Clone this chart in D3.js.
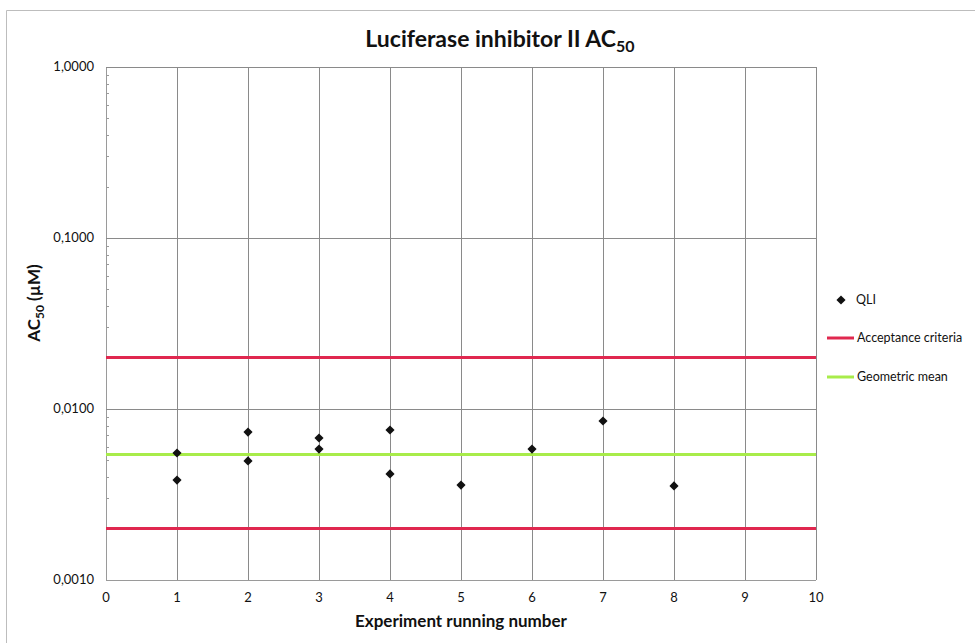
<!DOCTYPE html>
<html>
<head>
<meta charset="utf-8">
<script src="https://cdn.jsdelivr.net/npm/d3@7"></script>
<style>
  html, body { margin: 0; padding: 0; background: #fff; }
  svg { display: block; }
  text { font-family: Lato, "Open Sans", "DejaVu Sans", sans-serif; fill: #111; }
</style>
</head>
<body>
<script>
// Experiment running number for each QLI measurement
const runNumbers = [1, 1, 2, 2, 3, 3, 4, 4, 5, 6, 7, 8];
// AC50 (µM) of the QLI measurements
const ac50Values = [0.00553, 0.00384, 0.00733, 0.00497, 0.00677, 0.00583, 0.00754, 0.00417, 0.00359, 0.00583, 0.00851, 0.00355];
// Acceptance criteria (lower, upper) and geometric mean, µM
const acceptanceLimits = [0.002, 0.02];
const geometricMean = [0.00542];
// Axis ticks
const xTicks = [0, 1, 2, 3, 4, 5, 6, 7, 8, 9, 10];
const yTicks = [0.001, 0.01, 0.1, 1];
const yTickLabels = ["0,0010", "0,0100", "0,1000", "1,0000"];
const legendLabels = ["QLI", "Acceptance criteria", "Geometric mean"];

const W = 975, H = 643;
const margin = { left: 106, right: 159, top: 67, bottom: 63 };

const svg = d3.select("body").append("svg").attr("width", W).attr("height", H);

// outer chart frame
svg.append("path")
  .attr("d", `M6.5,${H} V10.5 H${W}`)
  .attr("fill", "none").attr("stroke", "#bdbdbd").attr("stroke-width", 1);

const x = d3.scaleLinear().domain([0, 10]).range([margin.left, W - margin.right]);
const y = d3.scaleLog().domain([0.001, 1]).range([H - margin.bottom, margin.top]);

const gridColor = "#8a8a8a";

// vertical grid lines
svg.append("g").selectAll("line").data(xTicks).join("line")
  .attr("x1", d => Math.round(x(d)) + 0.5).attr("x2", d => Math.round(x(d)) + 0.5)
  .attr("y1", y(1)).attr("y2", y(0.001))
  .attr("stroke", d => d === 0 ? "#9a9a9a" : gridColor).attr("stroke-width", 1);

// horizontal grid lines at each decade
svg.append("g").selectAll("line").data(yTicks).join("line")
  .attr("x1", x(0)).attr("x2", x(10))
  .attr("y1", d => Math.round(y(d)) + 0.5).attr("y2", d => Math.round(y(d)) + 0.5)
  .attr("stroke", d => d === 0.001 ? "#9a9a9a" : gridColor).attr("stroke-width", 1);

// minor ticks on the y axis
const minor = [];
[0.001, 0.01, 0.1].forEach(dec => { for (let k = 2; k <= 9; k++) minor.push(dec * k); });
svg.append("g").selectAll("line").data(minor).join("line")
  .attr("x1", x(0)).attr("x2", x(0) + 3)
  .attr("y1", d => Math.round(y(d)) + 0.5).attr("y2", d => Math.round(y(d)) + 0.5)
  .attr("stroke", "#9a9a9a");

// y tick labels
svg.append("g").selectAll("text").data(yTicks).join("text")
  .attr("x", x(0) - 12).attr("y", d => y(d) + 4)
  .attr("text-anchor", "end").attr("font-size", 13)
  .text((d, i) => yTickLabels[i]);

// x tick labels
svg.append("g").selectAll("text").data(xTicks).join("text")
  .attr("x", d => x(d)).attr("y", y(0.001) + 22)
  .attr("text-anchor", "middle").attr("font-size", 13)
  .text(d => d);

// acceptance criteria lines
svg.append("g").selectAll("line").data(acceptanceLimits).join("line")
  .attr("x1", x(0)).attr("x2", x(10))
  .attr("y1", d => y(d)).attr("y2", d => y(d))
  .attr("stroke", "#e0284f").attr("stroke-width", 3);

// geometric mean line
svg.append("g").selectAll("line").data(geometricMean).join("line")
  .attr("x1", x(0)).attr("x2", x(10))
  .attr("y1", d => y(d)).attr("y2", d => y(d))
  .attr("stroke", "#a8ec4a").attr("stroke-width", 3);

// QLI points: squares turned 45° to form diamonds
const diamond = d3.symbol().type(d3.symbolSquare).size(42);
svg.append("g").selectAll("path").data(runNumbers).join("path")
  .attr("d", diamond)
  .attr("transform", (d, i) => `translate(${x(d)},${y(ac50Values[i])}) rotate(45)`)
  .attr("fill", "#111");

// title
const title = svg.append("text")
  .attr("x", 500).attr("y", 47).attr("text-anchor", "middle")
  .attr("font-size", 23).attr("font-weight", "bold");
title.append("tspan").text("Luciferase inhibitor II AC");
title.append("tspan").attr("font-size", 16).attr("dy", 5).text("50");

// x axis title
svg.append("text")
  .attr("x", 461).attr("y", 627).attr("text-anchor", "middle")
  .attr("font-size", 17).attr("font-weight", "bold")
  .text("Experiment running number");

// y axis title
const yt = svg.append("text")
  .attr("transform", `translate(40,303) rotate(-90)`)
  .attr("text-anchor", "middle").attr("font-size", 17).attr("font-weight", "bold");
yt.append("tspan").text("AC");
yt.append("tspan").attr("font-size", 12).attr("dy", 4).text("50");
yt.append("tspan").attr("dy", -4).text(" (µM)");

// legend
const lg = svg.append("g");
lg.append("path").attr("d", diamond).attr("transform", "translate(841,300) rotate(45)").attr("fill", "#111");
lg.append("line").attr("x1", 827).attr("x2", 854).attr("y1", 338).attr("y2", 338)
  .attr("stroke", "#e0284f").attr("stroke-width", 3);
lg.append("line").attr("x1", 827).attr("x2", 854).attr("y1", 377).attr("y2", 377)
  .attr("stroke", "#a8ec4a").attr("stroke-width", 3);
lg.selectAll("text").data(legendLabels).join("text")
  .attr("x", (d, i) => i === 0 ? 856 : 857)
  .attr("y", (d, i) => [304, 342, 381][i])
  .attr("font-size", 12.5)
  .text(d => d);
</script>
</body>
</html>
